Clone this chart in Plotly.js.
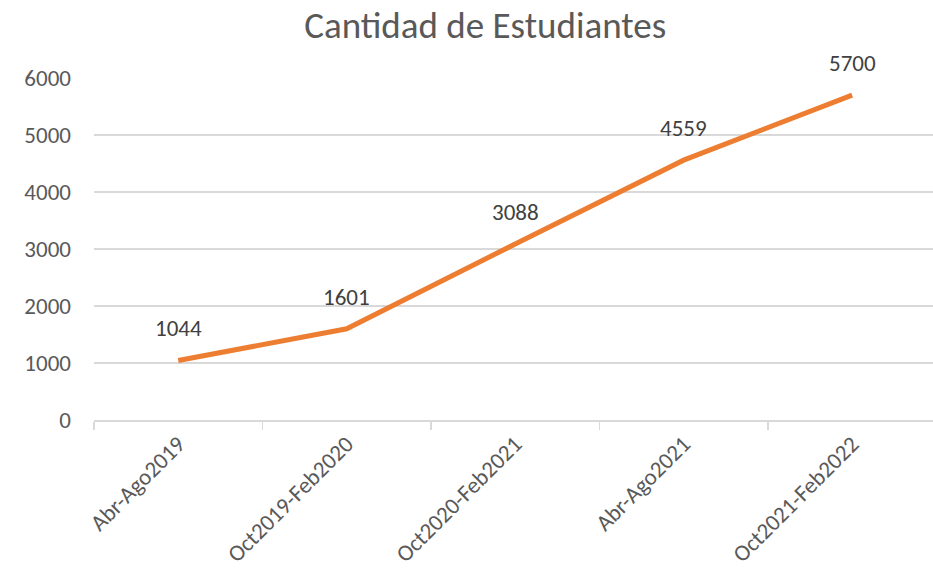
<!DOCTYPE html>
<html><head><meta charset="utf-8">
<script src="https://cdn.plot.ly/plotly-3.0.1.min.js"></script>
<style>html,body{margin:0;padding:0;background:#fff}#chart{width:933px;height:577px}</style>
</head><body><div id="chart"></div>
<script>
const categories = ["Abr-Ago2019", "Oct2019-Feb2020", "Oct2020-Feb2021", "Abr-Ago2021", "Oct2021-Feb2022"];
const students = [1044, 1601, 3088, 4559, 5700];
const yTicks = [0, 1000, 2000, 3000, 4000, 5000, 6000];

const FONT = "Carlito, Calibri, Lato, 'Open Sans', sans-serif";

const trace = {
  x: categories, y: students, type: 'scatter', mode: 'lines',
  line: {color: '#ED7D31', width: 5}, hoverinfo: 'none'
};

const annotations = categories.map((c, i) => ({
  x: c, y: students[i], text: String(students[i]), showarrow: false,
  yshift: 32, font: {family: FONT, size: 23, color: '#404040'}
}));

const layout = {
  width: 933, height: 577,
  margin: {l: 94, r: 0, t: 78, b: 157},
  paper_bgcolor: '#fff', plot_bgcolor: '#fff',
  title: {text: 'Cantidad de Estudiantes', xref: 'container', x: 0.52, xanchor: 'center', y: 0.957, yanchor: 'middle',
          font: {family: FONT, size: 37, color: '#595959'}},
  font: {family: FONT, color: '#595959', size: 23},
  showlegend: false,
  xaxis: {
    type: 'category', tickangle: -45, tickson: 'boundaries', range: [-0.5, 4.48],
    showline: true, linecolor: '#d9d9d9', linewidth: 1.5,
    ticks: 'outside', ticklen: 8, tickcolor: '#d9d9d9', tickwidth: 1.5,
    showgrid: false, zeroline: false,
    tickfont: {family: FONT, size: 23, color: '#595959'}
  },
  yaxis: {
    range: [0, 6000], tickvals: yTicks, ticktext: yTicks.map(String),
    showgrid: true, gridcolor: '#d9d9d9', gridwidth: 1.5,
    zeroline: false, showline: false, ticks: '', ticklabelstandoff: 22,
    tickfont: {family: FONT, size: 23, color: '#595959'}
  },
  annotations: annotations
};

Plotly.newPlot('chart', [trace], layout, {displayModeBar: false, staticPlot: true});
</script></body></html>
